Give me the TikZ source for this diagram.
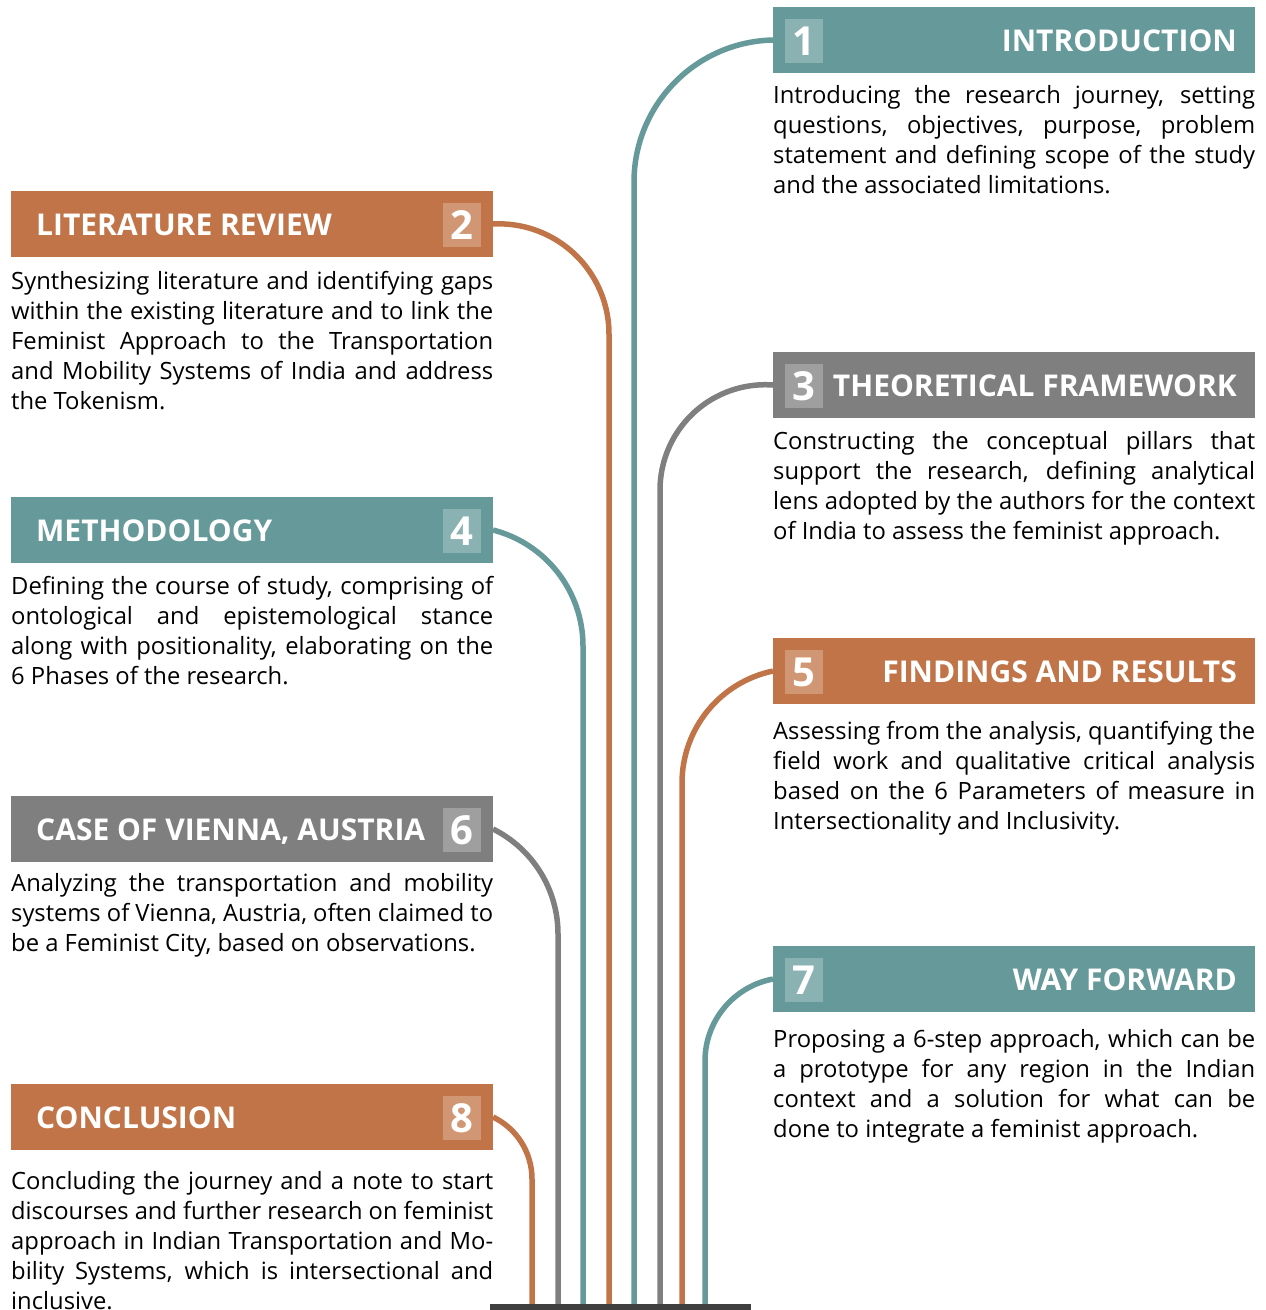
\documentclass[tikz,border=0pt]{standalone}
\usepackage{fontspec}
\usepackage{graphicx}
\setmainfont{Open Sans}

\definecolor{tealc}{HTML}{65999A}
\definecolor{orangec}{HTML}{C17447}
\definecolor{grayc}{HTML}{7F7F7F}
\definecolor{basec}{HTML}{3F3F3F}

\tikzset{
  hdr/.style={minimum width=482pt, minimum height=66pt, inner sep=0pt, outer sep=0pt},
  numsq/.style={minimum width=38pt, minimum height=44pt, inner sep=0pt, outer sep=0pt,
    text=white, font=\fontsize{40}{40}\selectfont\bfseries},
  htext/.style={text=white, inner sep=0pt, font=\fontsize{30}{30}\selectfont\bfseries},
  body/.style={inner sep=0pt, anchor=base west, font=\fontsize{23.8}{30}\selectfont},
  link/.style={line width=5.5pt},
}

% a full-width justified line: spaces stretch, or the line is narrowed if too long
\newsavebox\linebox
\newcommand\jline[1]{%
  \sbox\linebox{#1}%
  \ifdim\wd\linebox>482pt
    \pgfmathsetmacro\fitratio{482/\wd\linebox}%
    \hbox{\scalebox{\fitratio}[1]{\usebox\linebox}}%
  \else
    \hbox to 482pt{#1}%
  \fi}
% the closing line of a paragraph, left aligned
\newcommand\lline[1]{\hbox{#1}}

% arc from the east side of a left-hand box down to a vertical rail
% #2 = horizontal run, #3 = vertical drop of the bend
\newcommand\railright[5]{%
  \pgfmathsetmacro\radR{#2/2+(#3/#2)*#3/2}%
  \pgfmathsetmacro\angA{acos(1-#2/\radR)}%
  \draw[link,#4] (#1.east) arc[start angle=-\angA, end angle=0, radius=\radR] -- (#5);%
}
% arc from the west side of a right-hand box down to a vertical rail
\newcommand\railleft[5]{%
  \pgfmathsetmacro\radR{#2/2+(#3/#2)*#3/2}%
  \pgfmathsetmacro\angA{acos(1-#2/\radR)}%
  \draw[link,#4] (#1.west) arc[start angle=\angA-180, end angle=-180, radius=\radR] -- (#5);%
}

\begin{document}
\begin{tikzpicture}[x=1pt,y=-1pt]
\useasboundingbox (0,0) rectangle (1266,1310);

% header bars
\node[hdr, fill=tealc]   (b1) at (1014,40)   {};
\node[hdr, fill=orangec] (b2) at (252,224)   {};
\node[hdr, fill=grayc]   (b3) at (1014,385)  {};
\node[hdr, fill=tealc]   (b4) at (252,530)   {};
\node[hdr, fill=orangec] (b5) at (1014,671)  {};
\node[hdr, fill=grayc]   (b6) at (252,829)   {};
\node[hdr, fill=tealc]   (b7) at (1014,979)  {};
\node[hdr, fill=orangec] (b8) at (252,1117)  {};

% feet of the rails on the base
\coordinate (f8) at (532,1305);
\coordinate (f6) at (558,1305);
\coordinate (f4) at (583,1305);
\coordinate (f2) at (609,1305);
\coordinate (f1) at (634,1305);
\coordinate (f3) at (660,1305);
\coordinate (f5) at (682,1305);
\coordinate (f7) at (705,1305);

% rails
\railleft{b1}{139}{142}{tealc}{f1}
\railright{b2}{116}{110}{orangec}{f2}
\railleft{b3}{113}{105}{grayc}{f3}
\railright{b4}{90}{116}{tealc}{f4}
\railleft{b5}{91}{112}{orangec}{f5}
\railright{b6}{65}{105}{grayc}{f6}
\railleft{b7}{68}{82}{tealc}{f7}
\railright{b8}{39}{62}{orangec}{f8}

% base
\node[fill=basec, minimum width=261pt, minimum height=6pt, inner sep=0pt] (base) at (620.5,1307) {};

% number squares
\node[numsq, fill=tealc!75!white]   (n1) at (804,41)   {1};
\node[numsq, fill=orangec!75!white] (n2) at (462,225)  {2};
\node[numsq, fill=grayc!75!white]   (n3) at (804,386)  {3};
\node[numsq, fill=tealc!75!white]   (n4) at (462,531)  {4};
\node[numsq, fill=orangec!75!white] (n5) at (804,672)  {5};
\node[numsq, fill=grayc!75!white]   (n6) at (462,830)  {6};
\node[numsq, fill=tealc!75!white]   (n7) at (804,980)  {7};
\node[numsq, fill=orangec!75!white] (n8) at (462,1118) {8};

% titles
\node[htext, anchor=base east] (t1) at (1237,51)  {INTRODUCTION};
\node[htext, anchor=base west] (t2) at (36,235)   {LITERATURE REVIEW};
\node[htext, anchor=base east] (t3) at (1237,396) {THEORETICAL FRAMEWORK};
\node[htext, anchor=base west] (t4) at (36,541)   {METHODOLOGY};
\node[htext, anchor=base east] (t5) at (1237,682) {FINDINGS AND RESULTS};
\node[htext, anchor=base west] (t6) at (36,840)   {CASE OF VIENNA, AUSTRIA};
\node[htext, anchor=base east] (t7) at (1237,990) {WAY FORWARD};
\node[htext, anchor=base west] (t8) at (36,1128)  {CONCLUSION};

% descriptions
\node[body] (d1) at (773,103) {\vtop{%
  \jline{Introducing the research journey, setting}
  \jline{questions, objectives, purpose, problem}
  \jline{statement and defining scope of the study}
  \lline{and the associated limitations.}}};

\node[body] (d2) at (11,289) {\vtop{%
  \jline{Synthesizing literature and identifying gaps}
  \jline{within the existing literature and to link the}
  \jline{Feminist Approach to the Transportation}
  \jline{and Mobility Systems of India and address}
  \lline{the Tokenism.}}};

\node[body] (d3) at (773,449) {\vtop{%
  \jline{Constructing the conceptual pillars that}
  \jline{support the research, defining analytical}
  \jline{lens adopted by the authors for the context}
  \lline{of India to assess the feminist approach.}}};

\node[body] (d4) at (11,594) {\vtop{%
  \jline{Defining the course of study, comprising of}
  \jline{ontological and epistemological stance}
  \jline{along with positionality, elaborating on the}
  \lline{6 Phases of the research.}}};

\node[body] (d5) at (773,739) {\vtop{%
  \jline{Assessing from the analysis, quantifying the}
  \jline{field work and qualitative critical analysis}
  \jline{based on the 6 Parameters of measure in}
  \lline{Intersectionality and Inclusivity.}}};

\node[body] (d6) at (11,891) {\vtop{%
  \jline{Analyzing the transportation and mobility}
  \jline{systems of Vienna, Austria, often claimed to}
  \lline{be a Feminist City, based on observations.}}};

\node[body] (d7) at (773,1047) {\vtop{%
  \jline{Proposing a 6-step approach, which can be}
  \jline{a prototype for any region in the Indian}
  \jline{context and a solution for what can be}
  \lline{done to integrate a feminist approach.}}};

\node[body] (d8) at (11,1189) {\vtop{%
  \jline{Concluding the journey and a note to start}
  \jline{discourses and further research on feminist}
  \jline{approach in Indian Transportation and Mo-}
  \jline{bility Systems, which is intersectional and}
  \lline{inclusive.}}};
\end{tikzpicture}
\end{document}
